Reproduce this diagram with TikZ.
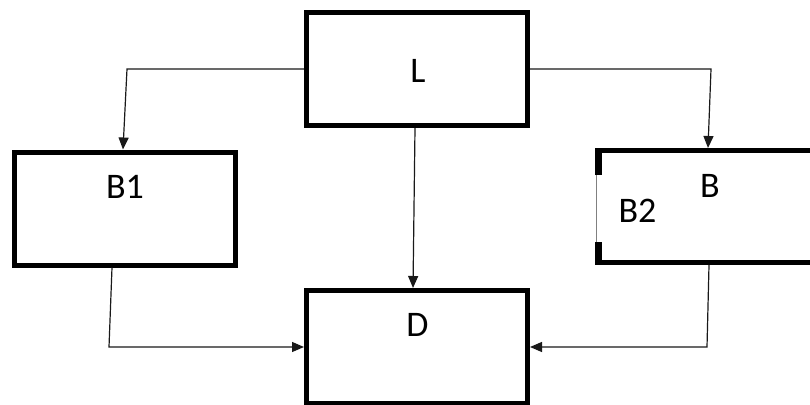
\documentclass[tikz,border=0pt]{standalone}
\usepackage{fontspec}
\setmainfont{Carlito}
\usetikzlibrary{arrows.meta,calc}
\begin{document}
\begin{tikzpicture}[x=1pt,y=-1pt,
  blockbox/.style={draw=black,line width=5pt,minimum width=221pt,minimum height=113pt,inner sep=0pt},
  link/.style={draw=black!90,line width=1.2pt},
  linkarrow/.style={link,-{Triangle[width=10pt,length=12pt]}},
  lbl/.style={font=\fontsize{36}{40}\selectfont,inner sep=0pt,anchor=base}]

\useasboundingbox (0,0) rectangle (810,404);
\clip (0,0) rectangle (810,404);

% blocks
\node[blockbox] (L)  at (417,69)    {};
\node[blockbox] (B1) at (125,208.5) {};
\node[blockbox] (D)  at (417,347)   {};
\node[blockbox,draw=none,minimum height=112pt] (B) at (708,206.5) {};

% right block: open on the left between two short stubs
\draw[line width=5pt]
  ($(B.north west)+(2.5,27)$) -- ($(B.north west)+(2.5,2.5)$)
  -- ($(B.north east)+(-2.5,2.5)$) -- ($(B.south east)+(-2.5,-2.5)$)
  -- ($(B.south west)+(2.5,-2.5)$) -- ($(B.south west)+(2.5,-23)$);
\draw[line width=6.5pt] ($(B.north west)+(3.25,5)$) -- ($(B.north west)+(3.25,27)$);
\draw[line width=6.5pt] ($(B.south west)+(3.25,-5)$) -- ($(B.south west)+(3.25,-23)$);
\draw[gray,line width=1pt] ($(B.north west)+(1,27)$) -- ($(B.south west)+(1,-23)$);

% labels
\node[lbl] at ($(L.center)+(1,13)$)      {L};
\node[lbl] at ($(B1.center)+(0,-10.5)$)  {B1};
\node[lbl] at ($(B.center)+(2,-9.5)$)    {B};
\node[lbl] at ($(B.center)+(-70.5,16)$)  {B2};
\node[lbl] at ($(D.center)+(0.5,-11)$)   {D};

% connectors
\coordinate (lb) at (127,69);
\coordinate (lr) at (711,69);
\coordinate (bl) at (109,347);
\coordinate (br) at (707,347);
\draw[linkarrow] (L.west) -- (lb) -- ([xshift=-2pt]B1.north);
\draw[linkarrow] (L.east) -- (lr) -- (B.north);
\draw[linkarrow] ([xshift=-2pt]L.south) -- ([xshift=-4pt]D.north);
\draw[linkarrow] ([xshift=-13pt]B1.south) -- (bl) -- (D.west);
\draw[linkarrow] ([xshift=1pt]B.south) -- (br) -- (D.east);
\end{tikzpicture}
\end{document}
